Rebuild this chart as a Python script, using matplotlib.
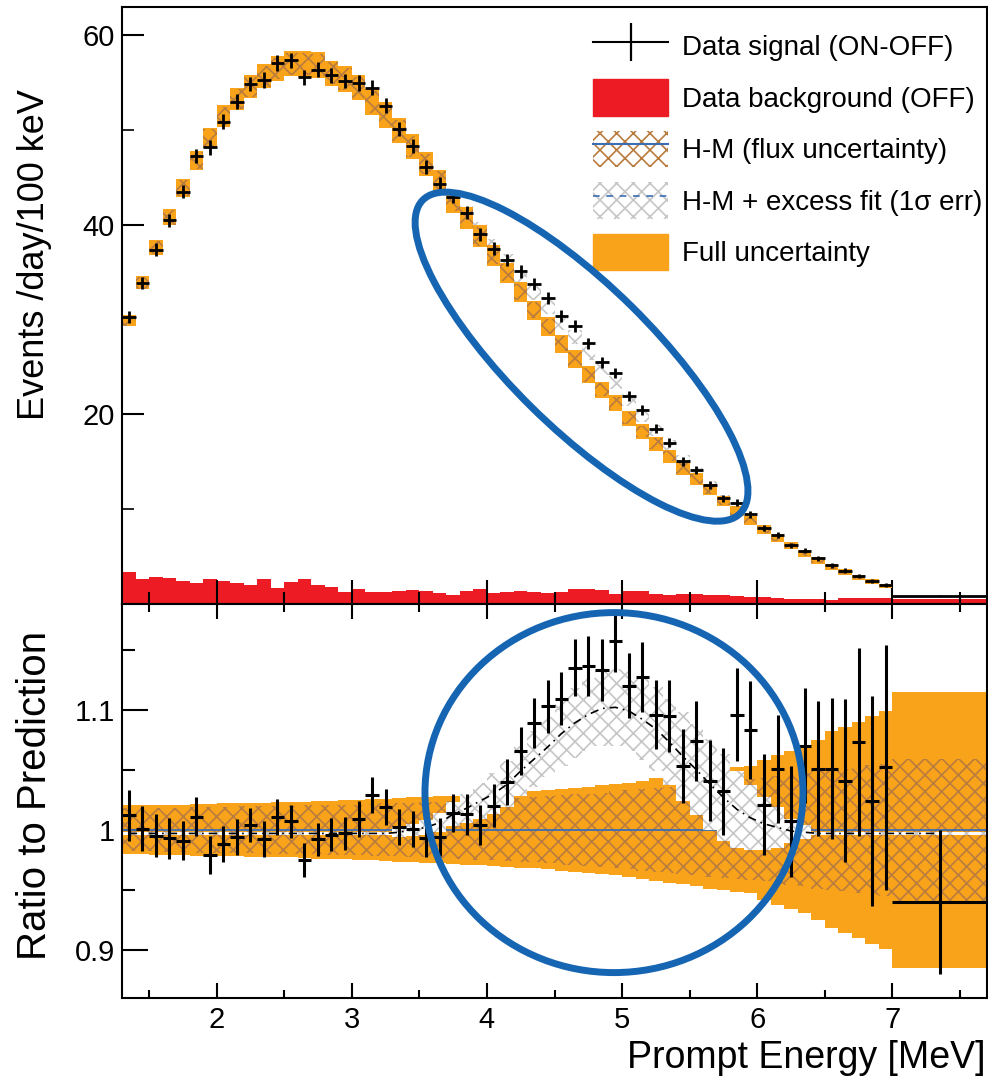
"""Reactor spectrum: data vs H-M prediction, with ratio panel."""
import numpy as np
import matplotlib
matplotlib.use("Agg")
import matplotlib.pyplot as plt
from matplotlib.patches import Ellipse, Patch
from matplotlib.lines import Line2D
from matplotlib import transforms

plt.rcParams.update({"font.family": ["Liberation Sans", "DejaVu Sans"],
                     "hatch.linewidth": 1.2, "axes.linewidth": 1.5})

ORANGE, RED, BROWN = "#f9a31b", "#ed1c24", "#b97c3f"
GRAY, BLUE, RING = "#c6c6c6", "#3b6db4", "#1565b3"

# 0.1 MeV bins from 1.3 to 7.0, then one wide bin 7.0-7.7
EDGES = np.append(np.round(np.arange(1.3, 7.05, 0.1), 2), 7.7)
CENTERS = (EDGES[:-1] + EDGES[1:]) / 2
HALFW = np.diff(EDGES) / 2

# events /day/100 keV (signal ON-OFF), 57 narrow bins + wide bin
data = [30.3, 33.9, 37.4, 40.5, 43.5, 47.3, 48.2, 50.9, 53.0, 54.85,
        55.3, 57.1, 57.4, 55.6, 56.4, 55.8, 55.2, 55.0, 54.5, 52.6,
        50.1, 48.3, 46.1, 44.3, 43.0, 41.3, 39.0, 37.5, 36.3, 35.1,
        33.8, 32.3, 30.4, 29.3, 27.5, 25.5, 24.4, 21.9, 20.5, 18.5,
        17.0, 15.05, 14.1, 12.55, 11.15, 10.7, 9.47, 8.0, 7.29, 6.2,
        5.63, 4.82, 4.08, 3.52, 2.96, 2.43, 2.0, 0.88]
# H-M prediction
pred = [29.9, 33.9, 37.6, 40.8, 43.9, 46.8, 49.2, 51.5, 53.3, 54.6,
        55.7, 56.5, 57.0, 57.0, 56.9, 56.0, 55.4, 54.5, 53.0, 51.6,
        50.0, 48.25, 46.4, 44.6, 42.5, 40.75, 38.8, 36.8, 34.95, 32.9,
        31.0, 29.3, 27.45, 25.85, 24.2, 22.6, 21.2, 19.6, 18.2, 16.9,
        15.6, 14.3, 13.2, 12.05, 10.85, 9.8, 8.8, 7.87, 6.97, 6.16,
        5.3, 4.6, 3.9, 3.38, 2.78, 2.37, 1.9, 0.94]
# OFF background
bkg = [3.4, 2.64, 2.82, 2.7, 2.46, 2.18, 2.6, 2.46, 2.18, 2.04,
       2.64, 1.69, 2.32, 2.64, 1.97, 1.76, 1.3, 1.55, 1.3, 1.27,
       1.34, 1.48, 1.34, 1.13, 0.92, 1.41, 1.55, 1.13, 1.27, 1.34,
       1.23, 1.2, 1.23, 1.55, 1.55, 1.48, 1.09, 1.34, 1.34, 1.06,
       0.95, 1.09, 1.06, 0.98, 0.95, 0.85, 0.74, 0.74, 0.63, 0.53,
       0.53, 0.53, 0.42, 0.6, 0.6, 0.6, 0.63, 0.55]
# data / prediction
ratio = [1.012, 1.001, 0.995, 0.993, 0.991, 1.011, 0.979, 0.988, 0.994, 1.004,
         0.992, 1.011, 1.007, 0.975, 0.992, 0.996, 0.997, 1.009, 1.029, 1.019,
         1.002, 1.001, 0.993, 0.994, 1.014, 1.013, 1.004, 1.020, 1.040, 1.066,
         1.089, 1.103, 1.109, 1.135, 1.136, 1.133, 1.157, 1.120, 1.127, 1.096,
         1.095, 1.053, 1.074, 1.041, 1.032, 1.096, 1.083, 1.021, 1.051, 1.007,
         1.070, 1.051, 1.051, 1.041, 1.073, 1.024, 1.052, 0.940]
ratio_err = [0.021, 0.019, 0.018, 0.017, 0.016, 0.016, 0.016, 0.015, 0.015, 0.014,
             0.015, 0.015, 0.014, 0.014, 0.014, 0.014, 0.014, 0.015, 0.015, 0.015,
             0.015, 0.015, 0.016, 0.016, 0.016, 0.017, 0.017, 0.018, 0.019, 0.020,
             0.021, 0.022, 0.022, 0.024, 0.025, 0.026, 0.026, 0.027, 0.029, 0.029,
             0.030, 0.031, 0.033, 0.034, 0.036, 0.039, 0.041, 0.042, 0.045, 0.046,
             0.048, 0.056, 0.059, 0.068, 0.078, 0.087, 0.102, 0.060]
# relative half-widths: full uncertainty, flux uncertainty
full_rel = [0.0205, 0.0205, 0.021, 0.021, 0.021, 0.0215, 0.0215, 0.022, 0.022, 0.0225,
            0.0225, 0.023, 0.023, 0.0235, 0.024, 0.024, 0.0245, 0.025, 0.0255, 0.026,
            0.0265, 0.027, 0.0275, 0.028, 0.0285, 0.029, 0.0295, 0.030, 0.031, 0.0315,
            0.032, 0.033, 0.034, 0.035, 0.036, 0.037, 0.038, 0.039, 0.041, 0.043,
            0.044, 0.045, 0.047, 0.049, 0.050, 0.052, 0.053, 0.058, 0.0625, 0.066,
            0.069, 0.075, 0.082, 0.086, 0.090, 0.095, 0.099, 0.115]
flux_rel = [0.018, 0.018, 0.018, 0.0185, 0.0185, 0.019, 0.019, 0.019, 0.0195, 0.0195,
            0.020, 0.020, 0.020, 0.0205, 0.0205, 0.021, 0.021, 0.021, 0.0215, 0.022,
            0.022, 0.0225, 0.023, 0.0235, 0.024, 0.0245, 0.025, 0.0255, 0.026, 0.0265,
            0.027, 0.028, 0.029, 0.0295, 0.030, 0.031, 0.032, 0.033, 0.034, 0.035,
            0.036, 0.037, 0.038, 0.039, 0.040, 0.041, 0.042, 0.043, 0.045, 0.046,
            0.047, 0.049, 0.050, 0.051, 0.053, 0.054, 0.055, 0.059]
# H-M + excess fit (ratio) and its 1 sigma half-width
fit = [0.997] * 20 + [
    0.998, 1.000, 1.002, 1.006, 1.013, 1.018, 1.024, 1.030, 1.038, 1.049,
    1.059, 1.069, 1.080, 1.089, 1.096, 1.101, 1.102, 1.099, 1.092, 1.084,
    1.073, 1.061, 1.050, 1.038, 1.027, 1.017, 1.010, 1.005, 1.002, 0.999,
    0.998] + [0.997] * 7
fit_rel = [0.0015] * 20 + [
    0.004, 0.005, 0.006, 0.008, 0.010, 0.012, 0.015, 0.017, 0.019, 0.021,
    0.023, 0.025, 0.027, 0.029, 0.030, 0.031, 0.032, 0.033, 0.034, 0.035,
    0.036, 0.037, 0.038, 0.038, 0.036, 0.032, 0.027, 0.022, 0.017, 0.010,
    0.006] + [0.0015] * 7

data, pred, bkg = np.array(data), np.array(pred), np.array(bkg)
ratio, ratio_err = np.array(ratio), np.array(ratio_err)
full_rel, flux_rel = np.array(full_rel), np.array(flux_rel)
fit, fit_rel = np.array(fit), np.array(fit_rel)

W, H = 988, 1081
fig = plt.figure(figsize=(W / 100, H / 100), dpi=100)


def px_axes(l, t, r, b):
    return fig.add_axes([l / W, 1 - b / H, (r - l) / W, (b - t) / H])


def ring(ax, x, y, w_px, h_px, angle):
    tr = fig.dpi_scale_trans + transforms.ScaledTranslation(x, y, ax.transData)
    ax.add_patch(Ellipse((0, 0), w_px / 100, h_px / 100, angle=angle, transform=tr,
                         fill=False, ec=RING, lw=5, zorder=20, clip_on=False))


ax1 = px_axes(122, 7, 987, 604)
ax2 = px_axes(122, 604, 987, 998)

# 1. top panel: spectrum
n = 57
c, hw, p = CENTERS[:n], 0.1, pred[:n]
ax1.stairs(bkg, EDGES, fill=True, color=RED, lw=0, zorder=1)
ax1.bar(c, 2 * p * fit_rel[:n], bottom=p * (fit[:n] - fit_rel[:n]), width=hw,
        facecolor="white", edgecolor=GRAY, hatch="xx", lw=0, zorder=2)
ax1.bar(c, 2 * p * full_rel[:n], bottom=p * (1 - full_rel[:n]), width=hw,
        color=ORANGE, lw=0, zorder=3)
ax1.bar(c, 2 * p * flux_rel[:n], bottom=p * (1 - flux_rel[:n]), width=hw,
        facecolor="none", edgecolor=BROWN, hatch="xx", lw=0, zorder=4)
ax1.errorbar(CENTERS, data, xerr=HALFW, yerr=data * ratio_err / ratio, fmt="none",
             ecolor="k", elinewidth=2, capsize=0, zorder=5)
ring(ax1, 4.70, 26.1, 446, 142, -44.6)

ax1.set_xlim(1.3, 7.7)
ax1.set_ylim(0, 63)
ax1.set_xticks([2, 3, 4, 5, 6, 7])
ax1.set_xticks(np.arange(1.5, 7.6, 1.0), minor=True)
ax1.set_yticks([20, 40, 60])
ax1.set_yticks([10, 30, 50], minor=True)
ax1.tick_params(axis="x", which="major", direction="in", length=17, width=1.5,
                labelbottom=False)
ax1.tick_params(axis="x", which="minor", direction="in", length=8.6, width=1.5)
ax1.tick_params(axis="y", which="major", direction="in", length=16, width=1.5,
                labelsize=21, pad=5)
ax1.tick_params(axis="y", which="minor", direction="in", length=8.6, width=1.2)

labels = ["Data signal (ON-OFF)", "Data background (OFF)", "H-M (flux uncertainty)",
          "H-M + excess fit (1\u03c3 err)", "Full uncertainty"]
handles = [(Line2D([], [], color="k", lw=1.5),
            Line2D([], [], color="k", marker="|", ms=27, mew=1.6, ls="none")),
           Patch(facecolor=RED, edgecolor=RED),
           (Patch(facecolor="none", edgecolor=BROWN, hatch="xx", lw=0),
            Line2D([], [], color=BLUE, lw=1.5)),
           (Patch(facecolor="white", edgecolor=GRAY, hatch="xx", lw=0),
            Line2D([], [], color=BLUE, lw=1.2, ls=(0, (4, 4)))),
           Patch(facecolor=ORANGE, edgecolor=ORANGE)]
ax1.legend(handles, labels, loc="upper left", bbox_to_anchor=(593 / W, 1 - 28 / H),
           bbox_transform=fig.transFigure, frameon=False, fontsize=20,
           handlelength=2.7, handleheight=1.64, handletextpad=0.5,
           labelspacing=0.54, borderpad=0, borderaxespad=0, numpoints=1)

# 2. bottom panel: ratio to prediction
ax2.stairs(1 + full_rel, EDGES, baseline=1 - full_rel, fill=True, color=ORANGE,
           lw=0, zorder=1)
ax2.stairs(1 + flux_rel, EDGES, baseline=1 - flux_rel, fill=True, facecolor="none",
           edgecolor=BROWN, hatch="xx", lw=0, zorder=2)
ax2.axhline(1, color=BLUE, lw=1.3, zorder=3)
ax2.stairs(fit + fit_rel, EDGES, baseline=fit - fit_rel, fill=True,
           facecolor="white", edgecolor=GRAY, hatch="xx", lw=0, zorder=4)
ax2.plot(CENTERS, fit, color="k", lw=1.2, ls=(0, (5, 3, 1, 3)), zorder=5)
ax2.errorbar(CENTERS, ratio, xerr=HALFW, yerr=ratio_err, fmt="none", ecolor="k",
             elinewidth=2.2, capsize=0, zorder=6)
ring(ax2, 4.94, 1.031, 378, 360, 0)

ax2.set_xlim(1.3, 7.7)
ax2.set_ylim(0.86, 1.188)
ax2.set_xticks([2, 3, 4, 5, 6, 7])
ax2.set_xticks(np.arange(1.5, 7.6, 1.0), minor=True)
ax2.set_yticks([0.9, 1.0, 1.1], ["0.9", "1", "1.1"])
ax2.set_yticks([0.95, 1.05, 1.15], minor=True)
ax2.tick_params(axis="x", which="major", direction="in", length=11, width=1.5,
                top=True, labelsize=21, pad=6)
ax2.tick_params(axis="x", which="minor", direction="in", length=5.5, width=1.5,
                top=True)
ax2.tick_params(axis="y", which="major", direction="in", length=19, width=1.5,
                labelsize=21, pad=5)
ax2.tick_params(axis="y", which="minor", direction="in", length=9.4, width=1.5)

for ax in (ax1, ax2):
    for s in ax.spines.values():
        s.set_zorder(30)

fig.text(35 / W, 1 - 255 / H, "Events /day/100 keV", rotation=90, ha="center",
         va="center", fontsize=26)
fig.text(35 / W, 1 - 795 / H, "Ratio to Prediction", rotation=90, ha="center",
         va="center", fontsize=29)
fig.text(985 / W, 1 - 1068 / H, "Prompt Energy [MeV]", ha="right", va="baseline",
         fontsize=27)

fig.savefig("out.png", dpi=100)
